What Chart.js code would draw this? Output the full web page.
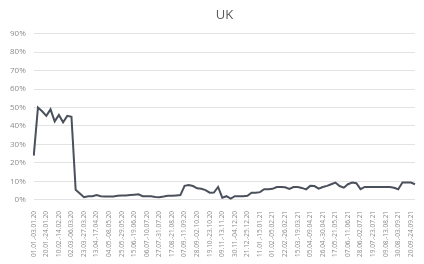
<!DOCTYPE html>
<html>
<head>
<meta charset="utf-8">
<script src="https://cdn.jsdelivr.net/npm/chart.js@4.4.1/dist/chart.umd.min.js"></script>
<style>
  html, body { margin: 0; padding: 0; background: #fff; }
  #wrap { width: 424px; height: 264px; }
</style>
</head>
<body>
<div id="wrap"><canvas id="ukChart" width="424" height="264"></canvas></div>
<script>
// Week labels: first partial week, then Monday-Friday ranges
const firstWeekLabel = '01.01.-03.01.20';
const weekCount = 92;

// Share of value per week, in percent
const ukValues = [
    24, 50, 48, 45.5, 49, 42.5, 46, 42, 45.5, 45,
    5.5, 3.5, 1.5, 2, 2, 2.6, 2, 1.8, 1.8, 1.8,
    2.2, 2.4, 2.4, 2.6, 2.8, 3, 2, 2, 2, 1.6,
    1.5, 1.8, 2.2, 2.2, 2.4, 2.6, 7.6, 8.1, 7.5, 6.3,
    6, 5.3, 3.9, 4, 7, 1.2, 2, 0.7, 2, 2,
    2, 2.2, 3.9, 3.9, 4.2, 5.8, 5.8, 6, 7, 7,
    6.8, 6, 7, 7, 6.5, 5.7, 7.6, 7.5, 6.1, 7,
    7.6, 8.5, 9.4, 7.5, 6.6, 8.5, 9.4, 9, 5.8, 7,
    7, 7, 7, 7, 7, 7, 6.6, 5.8, 9.4, 9.4,
    9.4, 8.5
];

const yTicks = [0, 10, 20, 30, 40, 50, 60, 70, 80, 90];

function pad(n) { return String(n).padStart(2, '0'); }

function buildWeekLabels() {
    const labels = [firstWeekLabel];
    const start = Date.UTC(2020, 0, 6);
    const day = 86400000;
    for (let i = 1; i < weekCount; i++) {
        const mon = new Date(start + (i - 1) * 7 * day);
        const fri = new Date(start + ((i - 1) * 7 + 4) * day);
        labels.push(pad(mon.getUTCDate()) + '.' + pad(mon.getUTCMonth() + 1) + '.-' +
            pad(fri.getUTCDate()) + '.' + pad(fri.getUTCMonth() + 1) + '.' +
            String(fri.getUTCFullYear()).slice(2));
    }
    return labels;
}

const weekLabels = buildWeekLabels();

new Chart(document.getElementById('ukChart'), {
    type: 'line',
    data: {
        labels: weekLabels,
        datasets: [{
            label: 'UK',
            data: ukValues,
            borderColor: '#4a505c',
            borderWidth: 2,
            pointRadius: 0,
            tension: 0,
            fill: false
        }]
    },
    options: {
        responsive: false,
        animation: false,
        layout: { padding: { top: 3, right: 9, left: 2, bottom: 4 } },
        plugins: {
            legend: { display: false },
            tooltip: { enabled: false },
            title: {
                display: true,
                fullSize: false,
                text: 'UK',
                color: '#595959',
                font: { family: 'Open Sans', size: 13, weight: 'normal' },
                padding: { top: 4, bottom: 11 }
            }
        },
        scales: {
            y: {
                min: 0,
                max: 90,
                afterBuildTicks: (axis) => { axis.ticks = yTicks.map(v => ({ value: v })); },
                border: { display: false },
                grid: { color: '#e3e3e3', drawTicks: false },
                ticks: {
                    color: '#8c8c8c',
                    padding: 8,
                    font: { family: 'Open Sans', size: 8 },
                    callback: (v) => v + '%'
                }
            },
            x: {
                offset: false,
                border: { display: false },
                grid: { display: false },
                ticks: {
                    autoSkip: false,
                    minRotation: 90,
                    maxRotation: 90,
                    color: '#8c8c8c',
                    padding: 3,
                    font: { family: 'Open Sans', size: 6.5 },
                    callback: function (val, index) {
                        return index % 3 === 0 ? this.getLabelForValue(val) : null;
                    }
                }
            }
        }
    }
});
</script>
</body>
</html>
